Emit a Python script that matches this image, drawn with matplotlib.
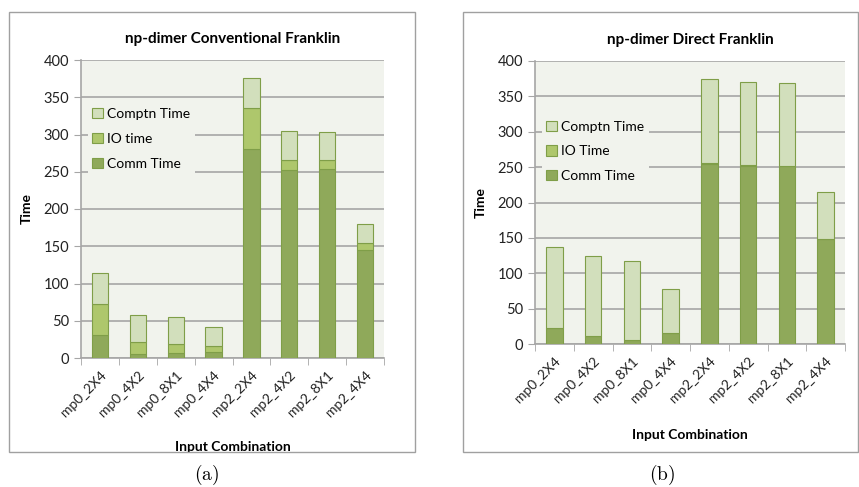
import numpy as np
import matplotlib.pyplot as plt
from matplotlib.patches import Rectangle

cats = ['mp0_2X4', 'mp0_4X2', 'mp0_8X1', 'mp0_4X4',
        'mp2_2X4', 'mp2_4X2', 'mp2_8X1', 'mp2_4X4']

# (a) conventional
conv_comm = [31, 6, 7, 8, 280, 252, 254, 145]
conv_io = [42, 15, 12, 8, 55, 14, 12, 9]
conv_comp = [41, 37, 36, 26, 41, 39, 38, 26]

# (b) direct
dir_comm = [22, 11, 5, 15, 255, 252, 251, 148]
dir_io = [1, 1, 1, 1, 1, 1, 1, 1]
dir_comp = [114, 112, 112, 62, 118, 117, 117, 66]

c_comm, c_io, c_comp = '#8fa95a', '#aec76c', '#d2dfbc'
edge = '#7f9e48'
bg = '#f1f3ed'
grid_c = '#a6a6a6'
font = ['Lato', 'DejaVu Sans']

fig = plt.figure(figsize=(8.59, 4.87), dpi=100)
W, H = 859, 487


def px(x0, y0, x1, y1):
    return [x0 / W, 1 - y1 / H, (x1 - x0) / W, (y1 - y0) / H]


# panel frames
for x0, y0, x1, y1 in [(9, 12, 415, 452), (463, 12, 858, 452)]:
    fig.patches.append(Rectangle((x0 / W, 1 - y1 / H), (x1 - x0) / W, (y1 - y0) / H,
                                 transform=fig.transFigure, fill=False,
                                 edgecolor='#a0a0a0', lw=1.0))


def panel(rect, comm, io, comp, title, io_label, leg_xy, spacing, ylab_x, xlab_y):
    ax = fig.add_axes(px(*rect))
    ax.set_facecolor(bg)
    x = np.arange(len(cats))
    w = 0.43
    b1 = ax.bar(x, comm, w, color=c_comm, edgecolor=edge, lw=0.8, label='Comm Time', zorder=3)
    b2 = ax.bar(x, io, w, bottom=comm, color=c_io, edgecolor=edge, lw=0.8, label=io_label, zorder=3)
    b3 = ax.bar(x, comp, w, bottom=np.add(comm, io), color=c_comp, edgecolor=edge, lw=0.8,
                label='Comptn Time', zorder=3)
    ax.set_xlim(-0.5, len(cats) - 0.5)
    ax.set_ylim(0, 400)
    ax.set_yticks(np.arange(0, 401, 50))
    ax.yaxis.grid(True, color=grid_c, lw=1.2, zorder=0)
    ax.set_axisbelow(True)
    ax.set_xticks(x)
    ax.set_xticklabels(cats, rotation=45, ha='right', rotation_mode='anchor',
                       family=font, fontsize=10, color='#222222')
    ax.set_xticks(np.arange(-0.5, len(cats)), minor=True)
    ax.tick_params(axis='x', which='major', length=0, pad=8)
    ax.tick_params(axis='x', which='minor', length=5, color=grid_c)
    ax.tick_params(axis='y', length=5, color=grid_c, labelsize=10.5, labelcolor='#222222')
    for lab in ax.get_yticklabels():
        lab.set_family(font)
    for s in ['top', 'right']:
        ax.spines[s].set_visible(False)
    for s in ['left', 'bottom']:
        ax.spines[s].set_color(grid_c)
        ax.spines[s].set_linewidth(1.2)
    ax.set_title(title, family=font, fontweight='bold', fontsize=11, pad=12)
    ax.set_ylabel('Time', family=font, fontweight='bold', fontsize=10)
    ax.yaxis.set_label_coords(ylab_x, 0.5)
    ax.set_xlabel('Input Combination', family=font, fontweight='bold', fontsize=10)
    ax.xaxis.set_label_coords(0.5, xlab_y)
    leg = ax.legend(handles=[b3, b2, b1], loc='upper left', bbox_to_anchor=leg_xy,
                    frameon=True, facecolor=bg, edgecolor='none', framealpha=1,
                    fancybox=False, prop={'family': font, 'size': 10},
                    handlelength=0.8, handleheight=0.8, handletextpad=0.3,
                    labelspacing=spacing, borderpad=0.3)
    leg.set_zorder(4)
    return ax


panel((81, 60, 384, 358), conv_comm, conv_io, conv_comp,
      'np-dimer Conventional Franklin', 'IO time', (0.0, 0.877), 0.92, -0.16, -0.28)
panel((535, 61, 845, 344), dir_comm, dir_io, dir_comp,
      'np-dimer Direct Franklin', 'IO Time', (0.0, 0.828), 0.88, -0.155, -0.3)

plt.rcParams['mathtext.fontset'] = 'cm'
fig.text(207 / W, 1 - 475 / H, r'$\mathrm{(a)}$', ha='center', va='center', fontsize=14)
fig.text(662 / W, 1 - 475 / H, r'$\mathrm{(b)}$', ha='center', va='center', fontsize=14)

fig.savefig('out.png', dpi=100)
